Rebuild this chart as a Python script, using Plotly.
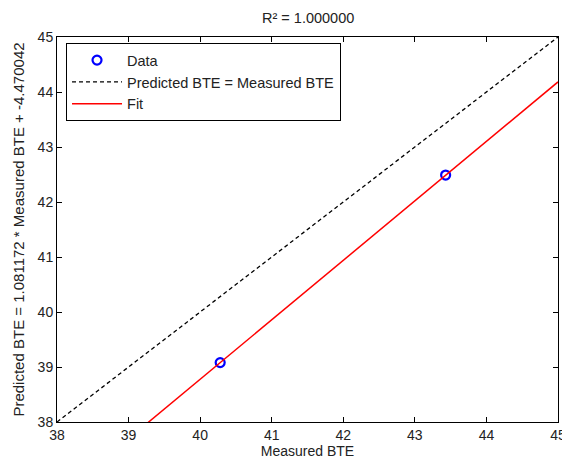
import numpy as np
import plotly.graph_objects as go

# Data
measured_bte = [40.28, 43.43]
predicted_bte = [39.08, 42.49]
fit_slope = 1.081172
fit_intercept = -4.470042
r_squared = 1.000000
axis_range = [38, 45]
tick_vals = [38, 39, 40, 41, 42, 43, 44, 45]

line_x = np.array(axis_range, dtype=float)
fit_y = fit_slope * line_x + fit_intercept

font_family = "Liberation Sans, Arial, sans-serif"

fig = go.Figure()
fig.add_trace(go.Scatter(
    x=measured_bte, y=predicted_bte, mode="markers", name="Data",
    marker=dict(symbol="circle-open", size=9, color="blue", line=dict(width=2.2, color="blue")),
))
fig.add_trace(go.Scatter(
    x=line_x, y=line_x, mode="lines", name="Predicted BTE = Measured BTE",
    line=dict(color="black", dash="4px,3px", width=1.3),
))
fig.add_trace(go.Scatter(
    x=line_x, y=fit_y, mode="lines", name="Fit",
    line=dict(color="red", width=1.5),
))

axis_common = dict(
    range=axis_range, tickvals=tick_vals, ticks="inside", ticklen=5,
    showline=True, linecolor="black", linewidth=1, mirror="ticks",
    showgrid=False, zeroline=False, tickfont=dict(size=14, color="#222"),
    tickcolor="black", ticklabeloverflow="allow", automargin=False,
)

fig.update_layout(
    width=562, height=463,
    margin=dict(l=57, r=4, t=37, b=41),
    paper_bgcolor="white", plot_bgcolor="white",
    font=dict(family=font_family, size=14, color="#222"),
    xaxis=dict(title=dict(text="Measured BTE", standoff=4, font=dict(size=14)), **axis_common),
    yaxis=dict(title=dict(text="Predicted BTE = %.6f * Measured BTE + %.6f" % (fit_slope, fit_intercept),
                          standoff=9, font=dict(size=15)), **axis_common),
    legend=dict(x=0.018, y=0.984, xanchor="left", yanchor="top",
                bordercolor="black", borderwidth=1, bgcolor="white",
                font=dict(size=14.5), itemwidth=50, tracegroupgap=0),
    showlegend=True,
    annotations=[dict(
        text="R² = %.6f" % r_squared, xref="paper", yref="paper",
        x=0.5, y=1.0, yshift=19, xanchor="center", yanchor="middle",
        showarrow=False, font=dict(size=14.5, color="#222"),
    )],
)

fig.write_html("out.html")
